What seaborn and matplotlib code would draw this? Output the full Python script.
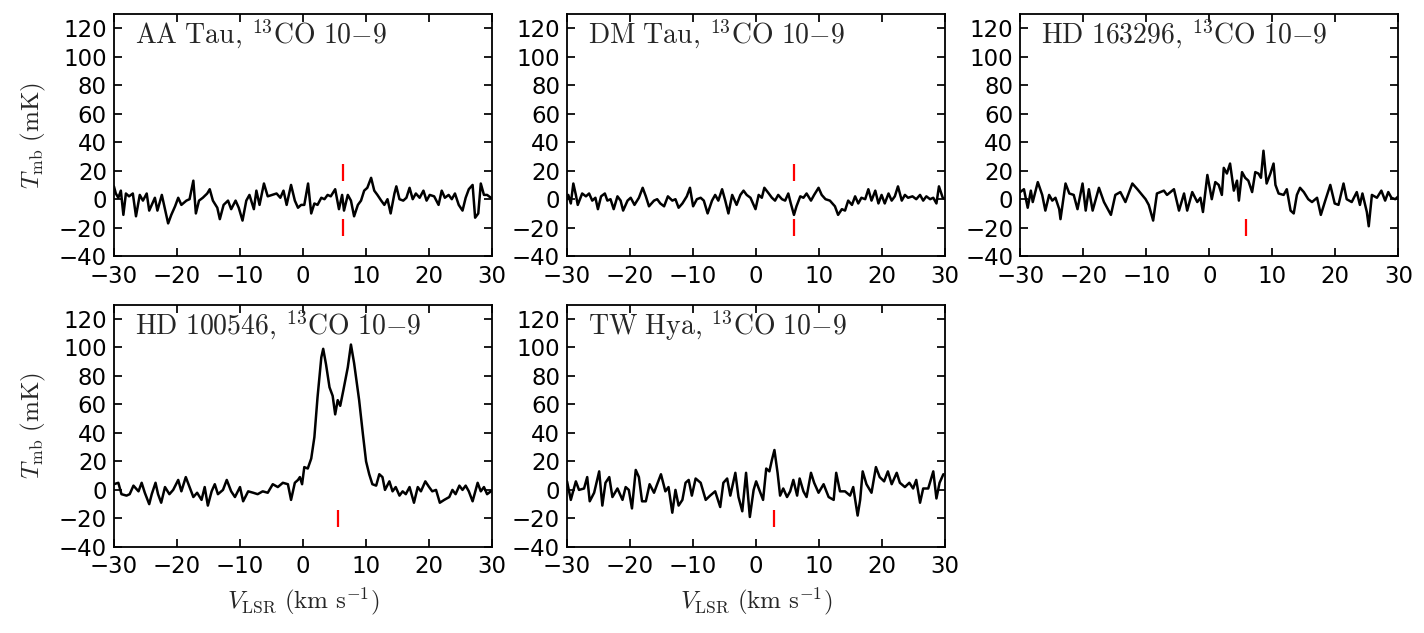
import matplotlib
matplotlib.use("Agg")
import matplotlib.pyplot as plt
import seaborn as sns

# spectra: velocity (km/s) and T_mb (mK)
aa_v = [-30.0, -29.7, -29.3, -28.9, -28.5, -28.1, -27.6, -27.0, -26.5, -25.9,
        -25.4, -24.8, -24.4, -24.0, -23.5, -23.1, -22.4, -21.9, -21.4, -20.9,
        -20.3, -19.8, -19.3, -18.5, -18.0, -17.4, -17.0, -16.5, -15.9, -15.2,
        -14.8, -14.3, -13.6, -13.2, -12.6, -11.9, -11.4, -10.7, -10.2, -9.6,
        -9.0, -8.5, -7.8, -7.4, -6.9, -6.2, -5.6, -4.9, -4.2, -3.6,
        -3.1, -2.6, -1.9, -1.3, -0.8, -0.3, 0.2, 0.8, 1.3, 1.8,
        2.3, 2.9, 3.4, 3.9, 4.4, 5.1, 5.7, 6.2, 6.5, 7.1,
        7.6, 8.1, 8.7, 9.2, 9.7, 10.2, 10.8, 11.3, 11.8, 12.4,
        12.9, 13.4, 13.9, 14.5, 14.8, 15.3, 15.9, 16.4, 16.9, 17.4,
        17.9, 18.5, 19.1, 19.6, 20.1, 20.8, 21.5, 22.0, 22.5, 23.1,
        23.6, 24.1, 24.7, 25.3, 25.8, 26.3, 26.9, 27.3, 27.8, 28.2,
        28.7, 29.2, 29.8]
aa_t = [9, 4, 1, 6, -11, 4, 2, 4, -12, 3,
        -1, 4, -8, -4, 1, -8, 3, -7, -17, -11,
        -5, 1, -4, -1, 0, 13, -10, -1, 1, 4,
        7, -1, -6, -14, -4, -1, -7, -1, -6, -15,
        -1, 3, -7, 6, -4, 11, 2, 3, 4, 1,
        6, -4, 10, -1, -6, -4, -4, 11, -10, -3,
        -4, 1, 0, 3, 2, 7, -7, 3, -8, 3,
        -1, -12, -4, -1, 6, 8, 15, 6, 3, -1,
        -4, 0, -10, 4, 9, 0, -1, 1, 8, 0,
        4, 1, 6, -1, 3, 2, -4, 6, 1, 3,
        0, 4, -4, -8, 1, 7, 10, -13, -10, 11,
        3, 3, 1]

dm_v = [-30.0, -29.8, -29.4, -29.0, -28.6, -28.3, -27.6, -27.0, -26.5, -26.0, -25.5,
        -25.1, -24.6, -24.0, -23.6, -23.1, -22.6, -22.0, -21.5, -21.1, -20.4,
        -19.9, -19.3, -18.6, -18.0, -17.5, -17.0, -16.2, -15.7, -15.2, -14.6,
        -14.0, -13.3, -12.8, -12.3, -11.7, -11.0, -10.5, -10.0, -9.4, -8.8,
        -8.3, -7.7, -7.0, -6.5, -6.0, -5.4, -4.9, -4.4, -3.8, -3.1,
        -2.5, -2.0, -1.5, -0.9, -0.1,
        0.4, 0.9, 1.3, 2.0, 2.5, 3.0, 3.5, 4.1, 4.6, 5.1,
        5.5, 6.0, 6.4, 7.0, 7.5, 8.0, 8.7, 9.2, 9.9, 10.4,
        11.0, 11.7, 12.5, 13.0, 13.6, 14.1, 14.6, 15.2, 15.7, 16.2,
        16.7, 17.3, 17.8, 18.3, 18.9, 19.4, 19.9, 20.4, 21.0, 21.5,
        22.0, 22.5, 23.1, 23.6, 24.1, 24.8, 25.4, 26.0, 26.5, 27.0,
        27.6, 28.1, 28.6, 29.0, 29.6, 30.0]
dm_t = [0, 3, -3, 11, 3, -4, 4, 2, 4, -1, 1,
        -7, 2, 4, -1, 0, -7, 2, -1, -8, -1,
        1, -4, 1, 8, 2, -5, -1, 0, -3, -5,
        2, -1, 0, -6, -3, 2, 8, -5, 0, 1,
        -1, -10, -1, 3, -1, 7, -1, -10, 3, -4,
        3, 6, 3, 1, -7,
        3, 1, 8, 4, 1, -1, 3, 0, -1, 4,
        -3, -11, -5, 2, 1, 4, -1, 3, 8, 3,
        0, -1, -5, -11, -7, -8, -1, -4, 2, -3,
        1, 0, 7, -1, 6, -3, 3, -3, 4, -1,
        2, 9, -1, 3, 1, 2, 0, 3, -1, 2,
        0, 1, -3, 9, 1, 0]

hd163_v = [-30.0, -29.4, -28.8, -28.3, -28.0, -27.2, -26.5, -26.0, -25.4, -24.9,
           -24.4, -23.8, -23.6, -22.8, -22.2, -21.5, -20.9, -20.1, -19.6, -19.1,
           -18.5, -17.5, -16.7, -15.6, -14.9, -14.1, -13.3, -12.2, -11.4, -10.1,
           -9.6, -8.9, -8.3, -7.2, -6.7, -5.6, -4.8, -4.0, -3.5, -2.7,
           -1.9, -1.4, -1.0, -0.3,
           0.4, 0.96, 1.5, 2.0, 2.3, 2.8, 3.3, 3.9, 4.4, 4.7,
           5.2, 5.7, 6.2, 6.8, 7.3, 7.8, 8.2, 8.6, 9.1, 9.7,
           10.2, 10.5, 11.0, 11.8, 12.3, 12.9, 13.4, 13.9, 14.4, 15.0,
           15.7, 16.3, 17.1, 17.7, 18.4, 19.2, 19.9, 20.5, 21.3, 21.8,
           22.6, 23.4, 23.9, 24.3, 25.0, 25.3, 25.8, 26.6, 27.3, 27.9,
           28.4, 28.9, 29.5, 30.0]
hd163_t = [5, 7, -6, 6, -2, 12, 3, -8, 3, -1,
           1, -7, -14, 11, 4, 3, -7, 11, -8, 7,
           -8, 8, -2, -11, 3, 5, -2, 11, 7, 0,
           -4, -15, 4, 6, 3, 7, -8, 4, -8, 5,
           -2, 1, -9, 17,
           0, 12, 10, 3, 22, 18, 25, 6, 13, -1,
           19, 15, 13, 5, 19, 18, 15, 34, 11, 18,
           25, 10, 4, 3, 7, -8, -10, 3, 8, 5,
           0, -2, 1, -11, -1, 10, -3, -4, 11, 0,
           -2, 5, -4, 4, -9, -19, 3, 1, 6, -1,
           5, 1, 0, 2]

hd100_v = [-30.0, -29.3, -28.8, -28.0, -27.5, -26.9, -26.1, -25.6, -25.1, -24.4,
           -24.0, -23.4, -23.0, -22.5, -21.9, -21.2, -20.6, -19.8, -19.3, -18.6,
           -18.0, -17.4, -16.8, -16.1, -15.6, -15.1, -14.5, -14.0, -13.5, -12.7,
           -12.1, -11.4, -10.8, -10.0, -9.5, -8.7, -7.9, -7.2, -6.4, -5.6,
           -4.8, -4.0, -3.2, -2.4, -1.9, -1.3, -0.8, -0.5,
           -0.15, 0.2, 0.75, 1.3, 1.8, 2.3, 2.9, 3.2, 3.65, 4.2,
           4.7, 5.1, 5.5, 5.9, 6.4, 7.1, 7.6, 8.1, 8.9, 9.5,
           10.0, 10.5, 11.0, 11.6, 12.1, 12.6, 13.0, 13.7, 14.2, 14.7,
           15.3, 15.8, 16.3, 16.9, 17.6, 18.2, 18.7, 19.4, 20.0, 20.5,
           21.1, 21.7, 22.4, 23.2, 23.7, 24.2, 24.8, 25.3, 25.8, 26.3,
           26.9, 27.7, 28.2, 28.7, 29.2, 29.8]
hd100_t = [4, 5, -3, -4, -3, 3, -1, 5, -2, -10,
           -3, 5, -3, -9, 2, -3, 0, 7, -1, 9,
           2, -5, -2, -7, 2, -11, -1, 4, -3, 0,
           7, -1, -5, 2, -8, -1, -2, -3, -1, -2,
           4, 2, 5, 4, -7, 5, 7, 9,
           4, 16, 15, 22, 37, 65, 93, 99, 88, 72,
           66, 53, 63, 59, 70, 86, 102, 89, 63, 39,
           20, 11, 4, 3, 11, 9, 0, 6, -1, 2,
           -4, -1, -3, 2, -9, 2, -1, 6, 2, -1,
           0, -9, -7, -5, 0, -3, 3, 0, 3, -1,
           -8, 5, -1, 2, -3, -1]

tw_v = [-30.0, -29.4, -28.6, -28.1, -27.3, -26.8, -26.4, -25.7, -24.9, -24.4,
        -23.9, -23.3, -22.8, -22.0, -21.2, -20.7, -20.2, -19.7, -19.1, -18.6,
        -18.1, -17.5, -16.9, -16.2, -15.7, -15.1, -14.4, -13.9, -13.3, -12.8,
        -12.3, -11.7, -11.2, -10.7, -10.2, -9.6, -8.8, -8.0, -7.3, -6.5,
        -5.7, -5.2, -4.6, -4.1, -3.3, -2.8, -2.2, -1.6, -1.0, -0.4,
        0.0, 0.5, 1.1, 1.6, 2.1, 2.5, 2.9, 3.4, 3.8, 4.3,
        4.9, 5.4, 5.9, 6.5, 6.9, 7.5, 8.0, 8.7, 9.2, 9.9,
        10.7, 11.5, 12.3, 12.7, 13.3, 14.1, 14.9, 15.4, 16.1, 16.5,
        16.9, 17.5, 18.3, 19.0, 19.6, 20.3, 20.9, 21.5, 22.3, 22.8,
        23.6, 24.3, 24.9, 25.4, 26.0, 26.5, 27.3, 28.1, 28.6, 29.1,
        29.7]
tw_t = [6, -7, 6, 0, 1, 9, -8, -2, 13, -11,
        5, 9, -5, 1, -7, 2, 0, -13, 14, 9,
        -8, -8, 4, -2, 4, 11, -1, 2, -16, 0,
        -11, -7, 5, 7, -4, 8, 5, -7, -4, -1,
        -12, 5, 8, -4, 12, -5, -15, 12, -19, 0,
        6, 0, -7, 15, 13, 21, 28, 12, -4, 1,
        -5, -1, 7, -4, 8, -1, -5, 12, 5, -2,
        4, -5, -7, 12, -1, -1, -4, 2, -18, -7,
        13, 4, -2, 16, 9, 6, 13, 4, 12, 5,
        2, 5, 1, 7, -9, 1, 1, 13, -6, 5,
        11]

names = ["AA Tau", "DM Tau", "HD 163296", "HD 100546", "TW Hya"]
velocities = [aa_v, dm_v, hd163_v, hd100_v, tw_v]
temps = [aa_t, dm_t, hd163_t, hd100_t, tw_t]
# systemic velocity tick marks (km/s) and whether the upper mark is drawn
v_sys = [6.4, 6.0, 5.9, 5.6, 2.8]
upper_mark = [True, True, False, False, False]

sns.set_theme(style="ticks", rc={
    "axes.edgecolor": "black",
    "axes.linewidth": 1.3,
    "xtick.color": "black",
    "ytick.color": "black",
    "xtick.direction": "in",
    "ytick.direction": "in",
    "xtick.top": True,
    "ytick.right": True,
    "xtick.major.size": 6,
    "ytick.major.size": 6,
    "xtick.major.pad": 6,
    "ytick.major.pad": 5,
    "xtick.labelsize": 16.5,
    "ytick.labelsize": 16.5,
    "mathtext.fontset": "cm",
})
plt.rcParams["font.family"] = ["DejaVu Sans"]

fig, axes = plt.subplots(2, 3, figsize=(14.24, 6.33), dpi=100)
fig.subplots_adjust(left=0.080, right=0.982, top=0.978, bottom=0.136,
                    wspace=0.198, hspace=0.2)
axes = axes.ravel()

for i, ax in enumerate(axes[:5]):
    sns.lineplot(x=velocities[i], y=temps[i], ax=ax, color="black",
                 lw=1.8, estimator=None, sort=False)
    ax.vlines(v_sys[i], -26, -14, color="red", lw=1.6)
    if upper_mark[i]:
        ax.vlines(v_sys[i], 13, 25, color="red", lw=1.6)
    ax.set_xlim(-30, 30)
    ax.set_ylim(-40, 130)
    ax.set_xticks(range(-30, 31, 10))
    ax.set_yticks(range(-40, 121, 20))
    ax.tick_params(axis="both", which="both", top=True, right=True)
    label = r"$\mathrm{" + names[i].replace(" ", r"\ ") + r",\,{}^{13}CO\ 10{-}9}$"
    ax.text(0.055, 0.915, label, transform=ax.transAxes, fontsize=20,
            ha="left", va="center")

axes[5].axis("off")

for ax in (axes[0], axes[3]):
    ax.set_ylabel(r"$T_{\rm mb}\ \mathrm{(mK)}$", fontsize=18, labelpad=8)
for ax in (axes[3], axes[4]):
    ax.set_xlabel(r"$V_{\rm LSR}\ \mathrm{(km\ s^{-1})}$", fontsize=18, labelpad=5)

fig.savefig("out.png", dpi=100)
